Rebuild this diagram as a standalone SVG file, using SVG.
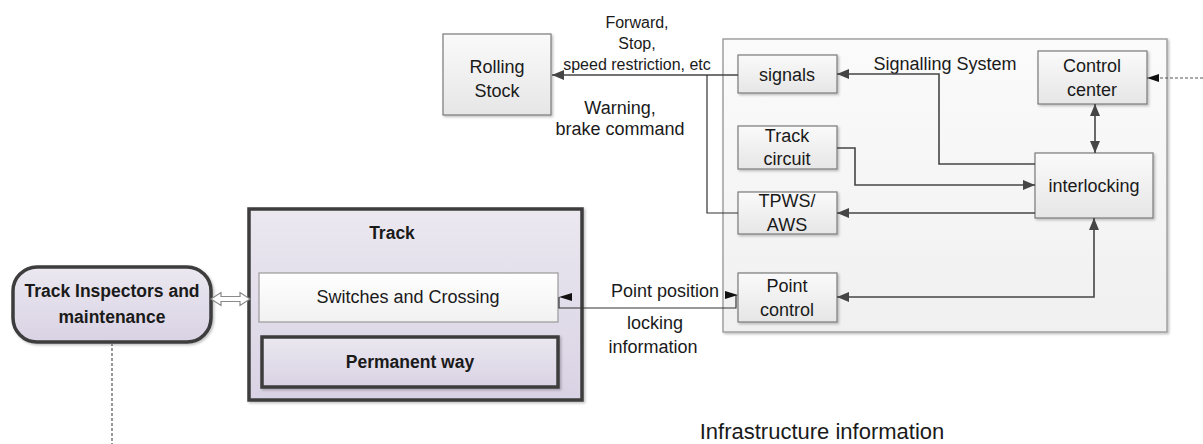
<svg xmlns="http://www.w3.org/2000/svg" width="1203" height="444" viewBox="0 0 1203 444">
  <style>
    text { font-family: "Liberation Sans", Arial, sans-serif; fill: #1a1a1a; text-anchor: middle; }
    .node { font-size: 18px; }
    .lbl { font-size: 16px; }
    .bold { font-weight: bold; font-size: 17.5px; }
    .box { fill: url(#gBox); stroke: #7a7a7a; stroke-width: 1.2; filter: url(#shadow); }
    .purple { fill: url(#gPurple); stroke: #3c3c3c; stroke-width: 3.5; filter: url(#shadow); }
    .conn { fill: none; stroke: #454545; stroke-width: 1.6; }
    .thin { fill: none; stroke: #333; stroke-width: 1.2; }
    .dash { fill: none; stroke: #555; stroke-width: 1.2; stroke-dasharray: 3 2; }
    .head { fill: #111; }
  </style>
  <defs>
    <linearGradient id="gBox" x1="0" y1="0" x2="0" y2="1">
      <stop offset="0" stop-color="#fafafa"/>
      <stop offset="1" stop-color="#e6e6e6"/>
    </linearGradient>
    <linearGradient id="gOuter" x1="0" y1="0" x2="0" y2="1">
      <stop offset="0" stop-color="#fbfbfb"/>
      <stop offset="1" stop-color="#f0f0f0"/>
    </linearGradient>
    <linearGradient id="gWhite" x1="0" y1="0" x2="0" y2="1">
      <stop offset="0" stop-color="#ffffff"/>
      <stop offset="1" stop-color="#f1f1f1"/>
    </linearGradient>
    <linearGradient id="gPurple" x1="0" y1="0" x2="0" y2="1">
      <stop offset="0" stop-color="#ebe8f0"/>
      <stop offset="1" stop-color="#d9d2e4"/>
    </linearGradient>
    <filter id="shadow" x="-10%" y="-10%" width="130%" height="130%">
      <feDropShadow dx="1.5" dy="1.5" stdDeviation="1" flood-color="#000" flood-opacity="0.25"/>
    </filter>
    <marker id="arr" viewBox="0 0 12 10" refX="12" refY="5" markerWidth="12" markerHeight="10" orient="auto-start-reverse" markerUnits="userSpaceOnUse">
      <path d="M0,0 L12,5 L0,10 z" fill="#454545"/>
    </marker>
    <marker id="arrB" viewBox="0 0 12 8" refX="12" refY="4" markerWidth="12" markerHeight="8" orient="auto-start-reverse" markerUnits="userSpaceOnUse">
      <path d="M0,0 L12,4 L0,8 z" fill="#111"/>
    </marker>
  </defs>

  <!-- Signalling system container -->
  <g id="signalling-system">
    <rect x="723" y="39" width="444" height="293" fill="url(#gOuter)" stroke="#9a9a9a" stroke-width="1.4" filter="url(#shadow)"/>
    <text class="node" x="945" y="70">Signalling System</text>
  </g>

  <g id="rolling-stock">
    <rect class="box" x="443" y="34" width="108" height="81"/>
    <text class="node" x="497" y="73">Rolling</text>
    <text class="node" x="497" y="97">Stock</text>
  </g>

  <g id="signals">
    <rect class="box" x="738" y="55" width="99" height="38"/>
    <text class="node" x="787" y="81">signals</text>
  </g>

  <g id="track-circuit">
    <rect class="box" x="738" y="126" width="99" height="43"/>
    <text class="node" x="787" y="142">Track</text>
    <text class="node" x="787" y="165">circuit</text>
  </g>

  <g id="tpws-aws">
    <rect class="box" x="738" y="192" width="99" height="42"/>
    <text class="node" x="787" y="207">TPWS/</text>
    <text class="node" x="787" y="231">AWS</text>
  </g>

  <g id="point-control">
    <rect class="box" x="738" y="273" width="99" height="49"/>
    <text class="node" x="787" y="292">Point</text>
    <text class="node" x="787" y="316">control</text>
  </g>

  <g id="control-center">
    <rect class="box" x="1038" y="51" width="109" height="53"/>
    <text class="node" x="1092" y="72">Control</text>
    <text class="node" x="1092" y="96">center</text>
  </g>

  <g id="interlocking">
    <rect class="box" x="1035" y="153" width="118" height="65"/>
    <text class="node" x="1094" y="192">interlocking</text>
  </g>

  <!-- Track assembly -->
  <g id="track">
    <rect class="purple" x="249" y="209" width="333" height="191"/>
    <text class="bold" x="392" y="239">Track</text>
  </g>

  <g id="switches-and-crossing">
    <rect x="259" y="273" width="299" height="49" fill="url(#gWhite)" stroke="#9a9a9a" stroke-width="1.2"/>
    <text class="node" x="408" y="303">Switches and Crossing</text>
  </g>

  <g id="permanent-way">
    <rect class="purple" x="262" y="337" width="296" height="50"/>
    <text class="bold" x="410" y="368">Permanent way</text>
  </g>

  <g id="track-inspectors">
    <rect class="purple" x="13" y="267" width="198" height="75" rx="24" ry="24"/>
    <text class="bold" x="112" y="297">Track Inspectors and</text>
    <text class="bold" x="112" y="323">maintenance</text>
  </g>

  <!-- Connectors -->
  <g id="connectors">
    <!-- signals / TPWS to rolling stock -->
    <path class="conn" d="M738,75 H552" marker-end="url(#arr)"/>
    <path class="thin" d="M738,213 H707 V75"/>
    <!-- interlocking to signals -->
    <path class="conn" d="M1035,164 H939 V74 H837" marker-end="url(#arr)"/>
    <!-- track circuit to interlocking -->
    <path class="conn" d="M837,148 H855 V185 H1035" marker-end="url(#arr)"/>
    <!-- interlocking to TPWS/AWS -->
    <path class="conn" d="M1035,213 H837" marker-end="url(#arr)"/>
    <!-- control center to interlocking -->
    <path class="conn" d="M1095,104 V153" marker-start="url(#arr)" marker-end="url(#arr)"/>
    <!-- point control to interlocking -->
    <path class="conn" d="M837,297 H1094 V218" marker-start="url(#arr)" marker-end="url(#arr)"/>
    <!-- external dashed input to control center -->
    <path class="dash" d="M1203,78 H1147" marker-end="url(#arrB)"/>
    <!-- switches and crossing to point control -->
    <path class="thin" d="M559,297 V308 H736 V295"/>
    <polygon class="head" points="559,297 572,293 572,301"/>
    <polygon class="head" points="738,295 725,291 725,299"/>
    <!-- inspectors to track (hollow double arrow) -->
    <polygon points="211,299 221,292.5 221,296.5 240,296.5 240,292.5 250,299 240,305.5 240,301.5 221,301.5 221,305.5" fill="#ffffff" stroke="#8a8a8a" stroke-width="1.2"/>
    <!-- inspectors dashed link downwards -->
    <path class="dash" d="M112,343 V444"/>
  </g>

  <!-- Connector labels -->
  <g id="labels">
    <text class="lbl" x="637" y="28">Forward,</text>
    <text class="lbl" x="637" y="49">Stop,</text>
    <text class="lbl" x="637" y="70">speed restriction, etc</text>
    <text class="node" x="620" y="114">Warning,</text>
    <text class="node" x="620" y="135">brake command</text>
    <text class="node" x="665" y="297">Point position</text>
    <text class="node" x="655" y="329">locking</text>
    <text class="node" x="653" y="353">information</text>
    <text x="822" y="439" style="font-size:22px">Infrastructure information</text>
  </g>
</svg>
